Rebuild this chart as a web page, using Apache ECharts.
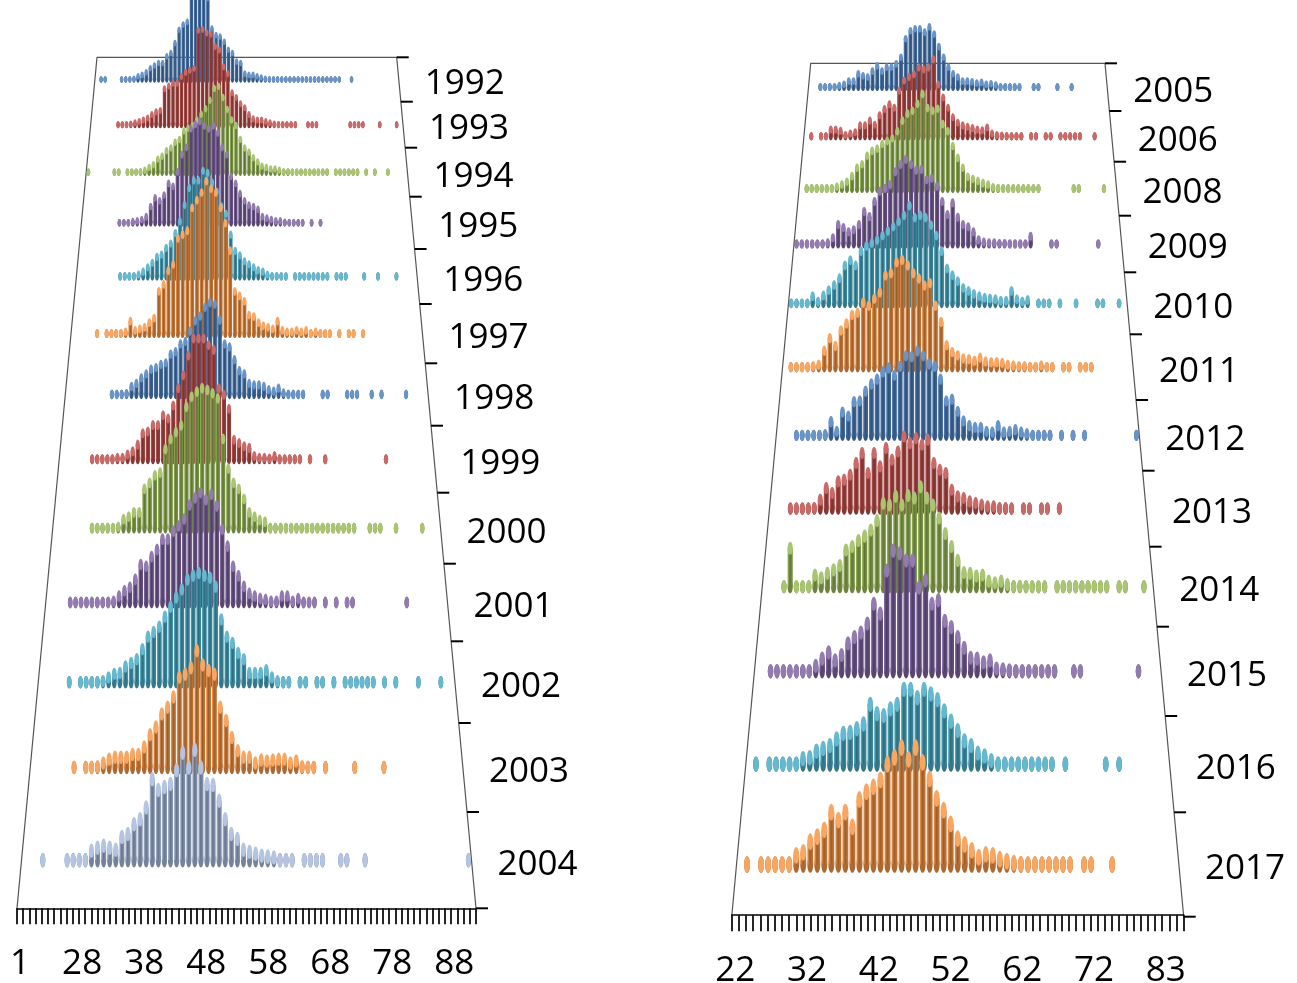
<!DOCTYPE html>
<html>
<head>
<meta charset="utf-8">
<title>Distributions 1992-2017</title>
<script src="https://cdn.jsdelivr.net/npm/echarts@6/dist/echarts.min.js"></script>
<style>
  html, body { margin: 0; padding: 0; background: #fff; }
  #chart { width: 1297px; height: 983px; }
</style>
</head>
<body>
<div id="chart"></div>
<script>
// ---- categories (x) and years (depth) ----
var leftCats = ['1','19','20','21','22','23','24','25','26','27','28','29','30','31','32','33','34','35','36','37',
  '38','39','40','41','42','43','44','45','46','47','48','49','50','51','52','53','54','55','56','57',
  '58','59','60','61','62','63','64','65','66','67','68','69','70','71','72','73','74','75','76','77',
  '78','79','80','81','82','83','84','85','86','87','88','89','90','91'];
var rightCats = ['22','23','24','25','26','27','28','29','30','31','32','33','34','35','36','37','38','39','40','41',
  '42','43','44','45','46','47','48','49','50','51','52','53','54','55','56','57','58','59','60','61',
  '62','63','64','65','66','67','68','69','70','71','72','74','75','76','77','78','79','80','81','82',
  '83','84','85'];
var leftYears = ['1992','1993','1994','1995','1996','1997','1998','1999','2000','2001','2002','2003','2004'];
var rightYears = ['2005','2006','2008','2009','2010','2011','2012','2013','2014','2015','2016','2017'];

// ---- values per year (one per category) ----
var counts1992 = [0,2,2,0,0,0,2,3,4,6, 10,12,16,22,26,30,30,40,45,60, 80,88,92,130,135,140,135,128,82,72,
  70,62,50,45,32,30,14,12,12,10, 8,6,4,4,4,5,4,4,4,4, 4,4,4,4,3,3,3,3,3,3, 0,0,3,0,0,0,0,0,0,0, 0,0,0,0];
var counts1993 = [0,0,0,0,0,0,3,4,5,6, 8,10,12,15,20,24,26,58,62,66, 66,76,82,85,88,144,145,140,138,120,
  115,90,80,52,45,36,30,20,14,12, 12,10,8,6,5,4,4,4,4,0, 0,4,3,4,0,0,0,0,0,0, 0,4,4,3,4,0,0,0,3,0, 0,0,3,0];
var counts1994 = [3,0,0,0,0,0,3,3,0,3, 4,5,6,8,12,16,24,28,36,40, 48,52,64,68,72,80,88,96,108,125,
  128,112,95,80,72,52,40,34,26,20, 14,12,10,10,8,6,6,5,5,5, 4,4,4,4,4,4,0,4,4,4, 3,4,4,0,3,0,3,0,0,3, 0,0,0,0];
var counts1995 = [0,0,0,0,0,0,0,0,4,4, 5,7,8,10,14,28,40,36,44,60, 56,76,100,110,136,142,146,140,136,140,
  130,110,100,70,60,46,36,30,28,24, 14,12,10,8,8,6,5,4,4,4, 0,4,0,4,0,0,0,0,0,0, 0,0,0,0,0,0,0,0,0,0, 0,0,0,0];
var counts1996 = [0,0,0,0,0,0,0,0,0,4, 4,5,6,8,12,18,24,32,35,44, 50,64,80,102,125,135,135,148,145,132,
  120,100,90,62,40,34,26,22,18,14, 12,8,6,6,5,5,0,4,4,4, 4,4,4,4,4,0,4,4,4,0, 0,0,4,0,0,4,0,0,0,4, 0,0,0,0];
var counts1997 = [0,0,0,0,0,4,0,4,4,5, 6,8,22,10,12,14,20,26,61,70, 88,96,130,135,140,170,180,190,205,195,
  190,170,150,114,61,55,48,30,28,20, 16,14,12,22,10,8,8,10,8,10, 6,8,6,5,5,0,5,0,4,4, 0,4,0,0,0,0,0,0,0,0, 0,0,0,0];
var counts1998 = [0,0,0,0,0,0,0,0,0,4, 4,5,7,16,20,27,32,38,40,44, 46,57,60,70,73,86,99,105,116,122,
  120,100,70,66,50,36,32,20,18,18, 16,12,10,14,8,6,6,5,5,0, 0,0,4,4,0,0,0,4,4,4, 0,0,4,0,4,0,0,0,0,4, 0,0,0,0];
var counts1999 = [0,0,0,0,0,0,4,4,5,5, 6,8,8,12,16,24,38,40,48,48, 60,56,72,93,109,133,154,154,154,146,
  140,93,85,68,30,26,22,20,10,8, 8,7,10,6,6,5,5,5,0,5, 0,0,5,0,0,0,0,0,0,0, 0,0,0,0,5,0,0,0,0,0, 0,0,0,0];
var counts2000 = [0,0,0,0,0,0,0,4,4,4, 5,6,8,17,20,25,25,53,60,69, 72,100,112,120,128,150,162,168,172,170,
  166,160,112,77,60,53,41,25,20,16, 14,6,6,5,5,5,5,5,6,5, 5,5,5,5,5,5,5,5,0,0, 5,5,5,0,0,5,0,0,0,0, 5,0,0,0];
var counts2001 = [0,0,0,0,4,4,4,4,4,4, 5,6,8,14,20,24,33,50,48,59, 67,79,79,88,94,102,118,126,132,124,
  130,117,90,71,48,37,25,17,14,11, 10,8,8,14,14,8,11,6,5,5, 0,5,0,5,0,5,5,0,0,0, 0,0,0,0,0,0,5,0,0,0, 0,0,0,0];
var counts2002 = [0,0,0,0,0,4,0,4,4,5, 6,8,12,16,17,24,28,32,43,57, 62,68,79,90,100,109,120,124,127,124,
  122,112,76,57,50,39,32,17,17,17, 20,12,8,6,5,0,4,4,0,4, 4,0,4,0,4,4,5,4,4,4, 0,4,0,4,0,0,0,4,0,0, 0,4,0,0];
var counts2003 = [0,0,0,0,0,0,0,4,0,4, 5,8,12,16,18,18,18,21,21,29, 42,50,64,71,82,103,106,113,131,116,
  110,106,71,57,39,25,18,18,12,15, 14,15,16,16,12,14,8,6,5,0, 4,0,0,0,0,4,0,0,0,0, 4,0,0,0,0,0,0,0,0,0, 0,0,0,0];
var counts2004 = [0,0,0,4,0,0,0,4,4,4, 6,17,20,22,20,18,31,34,44,49, 61,90,79,82,85,99,117,102,120,102,
  85,84,68,49,34,29,18,16,14,12, 11,10,6,5,5,0,4,4,4,4, 0,0,4,4,0,0,4,0,0,0, 0,0,0,0,0,0,0,0,0,0, 0,0,0,4];

var counts2005 = [0,0,4,4,5,6,8,10,15,15, 26,23,21,30,38,30,36,36,41,51, 79,91,94,94,89,97,86,67,51,36,
  26,21,15,15,14,12,13,10,11,9, 6,6,5,5,5,0,0,5,5,0, 0,0,5,0,0,5,0,0,0,0, 0,0,0];
var counts2006 = [0,4,0,4,5,16,16,14,8,10, 12,22,22,29,23,37,46,53,48,73, 88,93,97,107,104,107,119,82,63,48,
  34,26,22,20,18,16,15,19,10,8, 7,6,6,5,5,0,5,5,0,5, 5,0,5,5,5,5,5,0,0,5, 0,0,0];
var counts2008 = [0,4,4,4,5,5,6,9,12,16, 24,36,41,53,60,63,70,74,78,88, 103,113,117,127,141,121,117,120,98,88,
  67,50,36,23,20,17,14,12,8,7, 6,6,6,5,5,5,5,5,0,0, 0,0,0,0,5,5,0,0,0,0, 5,0,0];
var counts2009 = [4,4,4,4,5,5,8,15,33,29, 23,26,33,51,44,65,79,83,88,106, 116,123,116,108,109,95,97,86,65,47,
  63,43,33,30,23,12,9,8,8,7, 7,6,6,6,6,17,0,0,0,5, 5,0,0,0,0,0,0,0,5,0, 0,0,0];
var counts2010 = [4,4,4,5,16,9,17,24,31,40, 57,64,57,76,83,87,91,97,103,109, 116,124,137,121,124,121,111,97,76,53,
  44,36,27,23,19,16,14,13,12,10, 10,23,12,9,11,0,5,5,5,0, 5,0,0,5,0,0,0,5,5,0, 0,5,0];
var counts2011 = [0,4,5,5,6,8,10,28,44,34, 54,63,74,77,90,86,95,103,125,128, 142,145,138,128,121,112,115,86,65,35,
  26,22,18,17,15,19,14,13,13,12, 10,9,8,8,7,7,9,6,6,0, 5,5,0,5,5,5,0,0,0,0, 0,0,0];
var counts2012 = [0,0,0,4,4,5,6,6,8,24, 12,36,31,49,50,62,71,77,86,91, 82,93,106,105,112,106,96,93,77,50,
  52,37,25,19,17,17,12,11,19,11, 12,14,11,9,7,6,6,6,0,5, 0,5,0,5,0,0,0,0,0,0, 0,0,5];
var counts2013 = [0,0,0,4,4,5,6,8,18,32, 26,40,42,48,62,74,50,74,58,80, 66,76,94,86,92,84,90,62,54,50,
  30,22,20,16,14,12,10,10,8,8, 7,0,5,5,0,5,5,0,5,0, 0,0,0,0,0,0,0,0,0,0, 0,0,0];
var counts2014 = [0,0,0,4,52,4,4,5,21,18, 23,27,32,50,54,61,66,73,84,104, 102,112,102,113,110,123,110,102,87,69,
  54,38,24,23,20,21,14,12,14,10, 8,8,7,6,6,6,0,5,5,5, 5,5,5,5,5,5,0,5,5,0, 0,5,0];
var counts2015 = [0,0,4,4,4,5,5,6,7,14, 22,29,20,26,39,46,51,61,83,72, 120,142,139,131,131,101,109,83,87,64,
  57,46,34,23,22,18,20,11,10,9, 8,8,7,6,6,5,5,0,0,5, 5,0,0,0,0,0,0,0,0,5, 0,0,0];
var counts2016 = [0,4,0,4,4,5,5,6,14,15, 22,25,28,35,41,42,46,51,72,62, 60,67,72,88,88,79,88,83,77,65,
  54,44,33,28,20,17,12,8,8,7, 7,6,6,6,5,5,0,5,0,0, 0,0,0,5,0,5,0,0,0,0, 0,0,0];
var counts2017 = [0,4,0,4,4,5,5,7,18,21, 32,37,44,62,54,62,47,75,83,88, 95,111,118,128,116,128,113,96,76,64,
  50,35,29,23,16,19,18,14,12,10, 9,8,7,6,6,5,5,5,0,5, 5,0,0,5,0,0,0,0,0,0, 0,0,0];

var leftValues = [counts1992, counts1993, counts1994, counts1995, counts1996, counts1997, counts1998,
  counts1999, counts2000, counts2001, counts2002, counts2003, counts2004];
var rightValues = [counts2005, counts2006, counts2008, counts2009, counts2010, counts2011,
  counts2012, counts2013, counts2014, counts2015, counts2016, counts2017];

// ---- look ----
var FONT = '"Open Sans", "DejaVu Sans", sans-serif';
var H = 983;
var YREF = 100;   // value range that gets its own axis height on each row (taller bars run past it)
var leftColors = ['#4F81BD','#C0504D','#9BBB59','#8064A2','#4BACC6','#F79646',
  '#4F81BD','#C0504D','#9BBB59','#8064A2','#4BACC6','#F79646','#A8BADB'];
var rightColors = ['#4F81BD','#C0504D','#9BBB59','#8064A2','#4BACC6','#F79646',
  '#4F81BD','#C0504D','#9BBB59','#8064A2','#4BACC6','#F79646'];

// floor of each panel (perspective trapezoid) and the depth slot edges
var leftFloor = { backY: 57.3, frontY: 908.3, backL: 97, backR: 396.7, frontL: 17, frontR: 476,
  bounds: [57.3, 101.7, 147.7, 196.7, 249, 304, 363.3, 425.7, 492.7, 563.7, 641.3, 723, 812, 908.3] };
var rightFloor = { backY: 63.3, frontY: 916.7, backL: 810.7, backR: 1105, frontL: 731.7, frontR: 1183.7,
  bounds: [63.3, 111, 161.7, 215.7, 272.3, 334.3, 400, 470.7, 546.7, 626.7, 716, 812.3, 916.7] };

function mix(hex, target, a) {
  var c = parseInt(hex.slice(1), 16);
  var r = (c >> 16) & 255, g = (c >> 8) & 255, b = c & 255;
  r = Math.round(r + (target - r) * a);
  g = Math.round(g + (target - g) * a);
  b = Math.round(b + (target - b) * a);
  return 'rgb(' + r + ',' + g + ',' + b + ')';
}

function makeBar(color, t) {
  var cap = mix(color, 255, 0.15);
  var foot = mix(color, 0, 0.3);
  var body = new echarts.graphic.LinearGradient(0, 0, 1, 0, [
    { offset: 0, color: mix(color, 255, 0.05) },
    { offset: 0.45, color: mix(color, 0, 0.38) },
    { offset: 1, color: mix(color, 0, 0.18) }
  ]);
  return function (params, api) {
    var i = api.value(0);
    var base = api.coord([i, 0]);
    var top = api.coord([i, api.value(1)]);
    var rx = api.size([1, 0])[0] * 0.42;
    var ry = rx * (1.9 + 1.0 * t);
    var yTop = Math.min(base[1], top[1] + ry);
    return {
      type: 'group',
      children: [
        { type: 'ellipse', shape: { cx: base[0], cy: base[1], rx: rx, ry: ry }, style: { fill: foot } },
        { type: 'rect', shape: { x: base[0] - rx, y: yTop, width: 2 * rx, height: base[1] - yTop }, style: { fill: body } },
        { type: 'ellipse', shape: { cx: base[0], cy: yTop, rx: rx, ry: ry }, style: { fill: cap } }
      ]
    };
  };
}

var option = { animation: false, backgroundColor: '#fff', grid: [], xAxis: [], yAxis: [], series: [], graphic: [] };

function addPanel(p, cats, years, values, colors) {
  var frontW = p.frontR - p.frontL;
  for (var k = 0; k < years.length; k++) {
    var y = (p.bounds[k] + p.bounds[k + 1]) / 2;
    var t = (y - p.backY) / (p.frontY - p.backY);
    var L = p.backL + (p.frontL - p.backL) * t;
    var R = p.backR + (p.frontR - p.backR) * t;
    var s = (R - L) / frontW;
    var gi = option.grid.length;
    option.grid.push({ left: L, width: R - L, bottom: H - y, height: YREF * s });
    option.xAxis.push({ gridIndex: gi, type: 'category', data: cats, show: false });
    option.yAxis.push({
      gridIndex: gi, type: 'value', min: 0, max: YREF, interval: YREF, position: 'right',
      axisLine: { show: false }, axisTick: { show: false }, splitLine: { show: false },
      axisLabel: {
        margin: 26, color: '#000', fontFamily: FONT,
        rich: { yr: { fontSize: 35, fontFamily: FONT, color: '#000', padding: [9, 0, 0, 0] } },
        formatter: (function (yr) { return function (v) { return v === 0 ? '{yr|' + yr + '}' : ''; }; })(years[k])
      }
    });
    var data = [];
    values[k].forEach(function (v, i) { if (v > 0) data.push([i, v]); });
    option.series.push({
      type: 'custom', name: years[k], xAxisIndex: gi, yAxisIndex: gi, z: 2 + k, silent: true,
      clip: false, data: data, renderItem: makeBar(colors[k], t)
    });
  }

  // front category axis
  var ai = option.grid.length;
  option.grid.push({ left: p.frontL, width: frontW, bottom: H - p.frontY, height: 2 });
  option.xAxis.push({
    gridIndex: ai, type: 'category', data: cats,
    axisLine: { show: true, lineStyle: { color: '#000', width: 1.5 } },
    axisTick: { show: true, interval: 0, length: 16, lineStyle: { color: '#000', width: 1.7 } },
    axisLabel: { show: true, interval: 9, margin: 38, fontSize: 35, color: '#000', fontFamily: FONT }
  });
  option.yAxis.push({ gridIndex: ai, type: 'value', show: false });

  // floor outline and depth ticks
  option.graphic.push({
    type: 'polyline', z: 0, silent: true,
    shape: { points: [[p.frontL, p.frontY], [p.backL, p.backY], [p.backR, p.backY], [p.frontR, p.frontY]] },
    style: { stroke: '#555', lineWidth: 1.2, fill: null }
  });
  p.bounds.forEach(function (b) {
    var tt = (b - p.backY) / (p.frontY - p.backY);
    var x = p.backR + (p.frontR - p.backR) * tt;
    option.graphic.push({
      type: 'line', z: 0, silent: true,
      shape: { x1: x, y1: b, x2: x + 12, y2: b },
      style: { stroke: '#000', lineWidth: 2 }
    });
  });
}

addPanel(leftFloor, leftCats, leftYears, leftValues, leftColors);
addPanel(rightFloor, rightCats, rightYears, rightValues, rightColors);

var chart = echarts.init(document.getElementById('chart'));
chart.setOption(option);
</script>
</body>
</html>
